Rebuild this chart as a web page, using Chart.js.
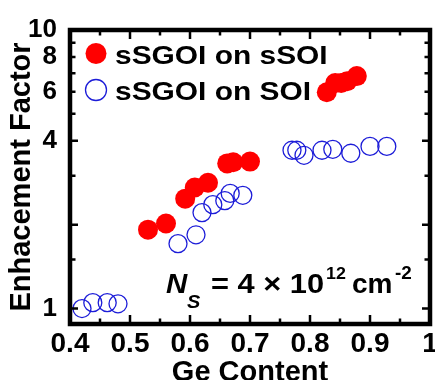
<!DOCTYPE html>
<html>
<head>
<meta charset="utf-8">
<script src="https://cdn.jsdelivr.net/npm/chart.js@4"></script>
<style>
  html, body { margin: 0; padding: 0; background: #fff; }
  #wrap { width: 435px; height: 380px; }
</style>
</head>
<body>
<div id="wrap"><canvas id="chart"></canvas></div>
<script>
// values
const sSOIGe = [0.53, 0.56, 0.592, 0.608, 0.63, 0.662, 0.672, 0.70, 0.828, 0.842, 0.852, 0.862, 0.878];
const sSOIFactor = [1.92, 2.02, 2.48, 2.72, 2.83, 3.32, 3.35, 3.37, 5.98, 6.45, 6.45, 6.55, 6.83];

const SOIGe = [0.42, 0.438, 0.462, 0.48, 0.58, 0.61, 0.62, 0.638, 0.658, 0.667, 0.688,
  0.77, 0.778, 0.79, 0.82, 0.838, 0.868, 0.90, 0.928];
const SOIFactor = [1.0, 1.05, 1.05, 1.04, 1.71, 1.84, 2.21, 2.36, 2.44, 2.59, 2.55,
  3.70, 3.70, 3.55, 3.70, 3.73, 3.61, 3.82, 3.82];

const seriesNames = ['sSGOI on sSOI', 'sSGOI on SOI'];
const yTickLabels = [1, 4, 6, 8, 10];
const yMajorTicks = [1, 2, 4, 10];

const FONT = '"Liberation Sans", Arial, sans-serif';
const RED = '#ff0000';
const BLUE = '#1c1cd8';

const toPoints = (xs, ys) => xs.map((x, i) => ({ x: x, y: ys[i] }));

// text in the picture is a little wider than plain Arial bold
function wideText(ctx, str, x, y, font, sx) {
  ctx.save();
  ctx.font = font;
  ctx.translate(x, y);
  ctx.scale(sx, 1);
  ctx.fillText(str, 0, 0);
  ctx.restore();
}

// frame, inner ticks, legend and the N_S note
const decorations = {
  id: 'decorations',
  afterDraw(chart) {
    const ctx = chart.ctx;
    const { left, right, top, bottom } = chart.chartArea;
    const xs = chart.scales.x;
    const ys = chart.scales.y;
    ctx.save();
    ctx.strokeStyle = '#000';

    // ticks
    ctx.lineWidth = 2.5;
    ctx.beginPath();
    xs.ticks.forEach(t => {
      const px = xs.getPixelForValue(t.value);
      if (t.value > xs.min + 1e-6 && t.value < xs.max - 1e-6) {
        ctx.moveTo(px, bottom); ctx.lineTo(px, bottom - 9);
        ctx.moveTo(px, top); ctx.lineTo(px, top + 9);
      }
      const mid = t.value + 0.05;
      if (mid < xs.max - 1e-6) {
        const pm = xs.getPixelForValue(mid);
        ctx.moveTo(pm, bottom); ctx.lineTo(pm, bottom - 5.5);
        ctx.moveTo(pm, top); ctx.lineTo(pm, top + 5.5);
      }
    });
    ys.ticks.forEach(t => {
      if (t.value < 1 - 1e-6 || t.value > 10 - 1e-6) return;
      const py = ys.getPixelForValue(t.value);
      const len = yMajorTicks.some(v => Math.abs(v - t.value) < 1e-6) ? 8 : 5.5;
      ctx.moveTo(left, py); ctx.lineTo(left + len, py);
      ctx.moveTo(right, py); ctx.lineTo(right - len, py);
    });
    ctx.stroke();

    // frame
    ctx.lineWidth = 4.5;
    ctx.strokeRect(left, top, right - left, bottom - top);

    // legend
    const ds = chart.data.datasets;
    ctx.fillStyle = '#000';
    ctx.textBaseline = 'alphabetic';
    ctx.textAlign = 'left';
    wideText(ctx, seriesNames[0], 115, 64, 'bold 26px ' + FONT, 1.15);
    wideText(ctx, seriesNames[1], 115, 100, 'bold 26px ' + FONT, 1.15);
    ctx.beginPath();
    ctx.arc(96, 53.5, 10.5, 0, Math.PI * 2);
    ctx.fillStyle = ds[0].backgroundColor;
    ctx.fill();
    ctx.beginPath();
    ctx.arc(96, 90, 10.5, 0, Math.PI * 2);
    ctx.lineWidth = 1.3;
    ctx.strokeStyle = ds[1].borderColor;
    ctx.stroke();

    // N_S = 4 x 10^12 cm^-2
    ctx.fillStyle = '#000';
    wideText(ctx, 'N', 166, 293, 'italic bold 28px ' + FONT, 1.05);
    wideText(ctx, 'S', 187, 308, 'italic bold 19px ' + FONT, 1.05);
    wideText(ctx, '= 4 × 10', 211, 293, 'bold 28px ' + FONT, 1.1);
    wideText(ctx, '12', 326, 279, 'bold 17px ' + FONT, 1.05);
    wideText(ctx, 'cm', 352, 293, 'bold 28px ' + FONT, 1.0);
    wideText(ctx, '-2', 395, 279, 'bold 18px ' + FONT, 1.05);
    ctx.restore();
  }
};

const ctx = document.getElementById('chart');

new Chart(ctx, {
  type: 'scatter',
  data: {
    datasets: [
      {
        label: seriesNames[0],
        data: toPoints(sSOIGe, sSOIFactor),
        backgroundColor: RED,
        borderColor: RED,
        borderWidth: 0,
        pointRadius: 10,
        pointHoverRadius: 10,
      },
      {
        label: seriesNames[1],
        data: toPoints(SOIGe, SOIFactor),
        backgroundColor: 'rgba(0,0,0,0)',
        borderColor: BLUE,
        borderWidth: 1.3,
        pointRadius: 9,
        pointHoverRadius: 9,
      },
    ],
  },
  options: {
    responsive: true,
    maintainAspectRatio: false,
    animation: false,
    events: [],
    layout: {
      autoPadding: false,
      padding: { left: 0, right: 5, top: 30, bottom: 0 },
    },
    plugins: {
      legend: { display: false },
      tooltip: { enabled: false },
    },
    scales: {
      x: {
        type: 'linear',
        position: 'bottom',
        min: 0.4,
        max: 1,
        grid: { display: false },
        border: { display: false },
        afterFit: (scale) => { scale.height = 56; },
        ticks: {
          stepSize: 0.1,
          autoSkip: false,
          maxRotation: 0,
          padding: -5,
          color: '#000',
          font: { family: FONT, size: 28, weight: 'bold' },
          callback: (v) => (Math.abs(v - 1) < 1e-6 ? '1' : v.toFixed(1)),
        },
        title: {
          display: true,
          text: 'Ge Content',
          color: '#000',
          font: { family: FONT, size: 29, weight: 'bold' },
          padding: { top: 0, bottom: -10 },
        },
      },
      y: {
        type: 'logarithmic',
        min: 0.88,
        max: 10,
        grid: { display: false },
        border: { display: false },
        afterFit: (scale) => { scale.width = 70; },
        ticks: {
          autoSkip: false,
          padding: 5,
          color: '#000',
          font: { family: FONT, size: 26, weight: 'bold' },
          callback: (v) => (yTickLabels.some(l => Math.abs(l - v) < 1e-6) ? String(Math.round(v)) : ''),
        },
        title: {
          display: true,
          text: 'Enhacement Factor',
          color: '#000',
          font: { family: FONT, size: 29, weight: 'bold' },
          padding: { top: 5, bottom: 0 },
        },
      },
    },
  },
  plugins: [decorations],
});
</script>
</body>
</html>
